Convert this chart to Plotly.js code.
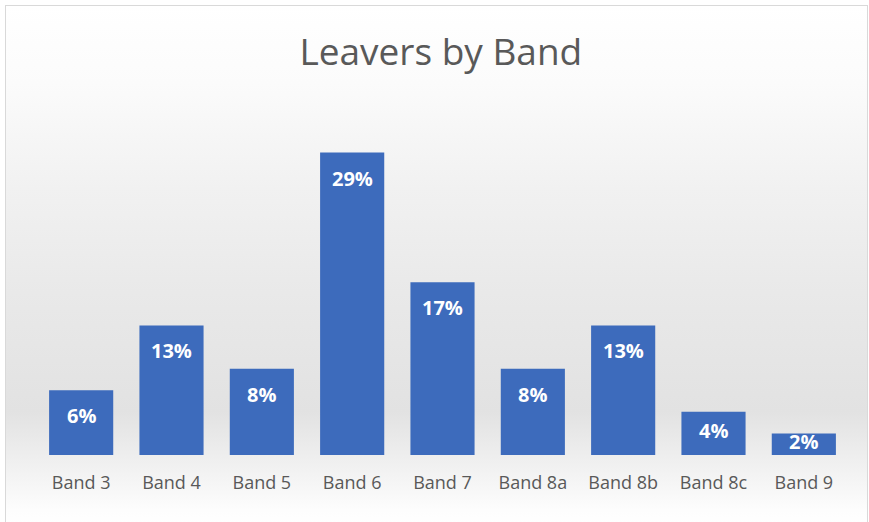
<!DOCTYPE html>
<html>
<head>
<meta charset="utf-8">
<script src="https://cdn.plot.ly/plotly-3.0.1.min.js"></script>
<style>
  html, body { margin: 0; padding: 0; background: #ffffff; }
  #frame {
    position: absolute; left: 5px; top: 5px; width: 861px; height: 520px;
    border: 1px solid #d9d9d9; border-bottom: none;
    background: linear-gradient(to bottom, #ffffff 0%, #fbfbfb 15%, #f1f1f1 35%, #e9e9e9 55%, #e2e2e2 78%, #f0f0f0 88%, #fdfdfd 97%, #ffffff 100%);
  }
  #chart { width: 861px; height: 516px; }
</style>
</head>
<body>
<div id="frame"><div id="chart"></div></div>
<script>
const categories = ["Band 3", "Band 4", "Band 5", "Band 6", "Band 7", "Band 8a", "Band 8b", "Band 8c", "Band 9"];
const leaverPct = [6.25, 12.5, 8.33, 29.17, 16.67, 8.33, 12.5, 4.17, 2.08];

const trace = {
  type: "bar",
  x: categories,
  y: leaverPct,
  marker: { color: "#3D6BBC", line: { width: 0 } },
  hoverinfo: "x+y"
};

const labelFont = { family: "Open Sans, sans-serif", size: 20, color: "#ffffff", weight: "bold" };
// Data labels: "inside end" for tall bars, centred in short bars (as Excel does)
const annotations = categories.map((c, i) => {
  const v = leaverPct[i];
  const short = v < 5;
  return {
    x: c, xref: "x",
    y: short ? v / 2 : v, yref: "y",
    yanchor: short ? "middle" : "top",
    yshift: short ? 3 : -10,
    text: Math.round(v) + "%",
    showarrow: false,
    font: labelFont
  };
});

const layout = {
  width: 861,
  height: 516,
  margin: { l: 30, r: 18, t: 138, b: 67 },
  paper_bgcolor: "rgba(0,0,0,0)",
  plot_bgcolor: "rgba(0,0,0,0)",
  bargap: 0.29,
  showlegend: false,
  title: {
    text: "Leavers by Band",
    font: { family: "Open Sans, sans-serif", size: 37, color: "#595959" },
    x: 0.505, xanchor: "center", xref: "container",
    y: 0.91, yanchor: "middle", yref: "container"
  },
  xaxis: {
    type: "category",
    showgrid: false, zeroline: false, showline: false,
    ticks: "",
    tickfont: { family: "Open Sans, sans-serif", size: 18, color: "#595959" },
    ticklabelstandoff: 15
  },
  yaxis: {
    range: [0, 30],
    showgrid: false, zeroline: false, showline: false,
    showticklabels: false, ticks: ""
  },
  annotations: annotations
};

Plotly.newPlot("chart", [trace], layout, { displayModeBar: false, staticPlot: true });
</script>
</body>
</html>
